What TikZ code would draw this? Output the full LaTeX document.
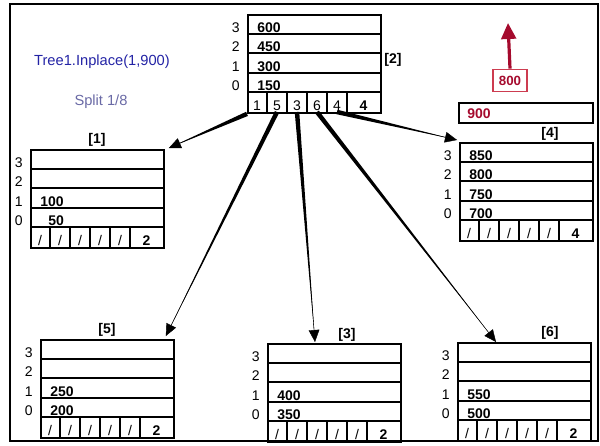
\documentclass[tikz,border=0pt]{standalone}
\usepackage{fontspec}
\setmainfont{Liberation Sans}
\usetikzlibrary{arrows.meta,calc}
\definecolor{navy}{RGB}{35,35,165}
\definecolor{slate}{RGB}{105,105,165}
\definecolor{wine}{RGB}{165,10,45}
\definecolor{rosebox}{RGB}{205,60,80}

\tikzset{
  pagebox/.style={draw, line width=1.4pt, minimum width=99.75pt, minimum height=73.5pt,
    inner sep=0pt, anchor=north west},
  rowline/.style={line width=1.4pt},
  keytext/.style={font=\fontsize{10.5}{12}\selectfont\bfseries, anchor=base west, inner sep=0pt},
  slottext/.style={font=\fontsize{10.5}{12}\selectfont, anchor=base east, inner sep=0pt},
  ptrtext/.style={font=\fontsize{10.5}{12}\selectfont, anchor=base, inner sep=0pt},
  pagetag/.style={font=\fontsize{10.5}{12}\selectfont\bfseries, inner sep=0pt},
}

\newcommand\nilptr{/}
% one B-tree page: name, x, y (top left), keys top row first, pointers, count
\newcommand\btpage[6]{%
  \node[pagebox] (#1) at (#2,#3) {};
  \foreach \k [count=\r] in {#4} {
    \draw[rowline] ($(#1.north west)+(0,\r*19.6)$) -- ++(133,0);
    \pgfmathtruncatemacro\slot{4-\r}
    \node[slottext] at ($(#1.north west)+(-7,\r*19.6-1.5)$) {\slot};
    \node[keytext] at ($(#1.north west)+(10,\r*19.6-1.5)$) {\k};
  }
  \foreach \p [count=\c] in {#5} {
    \draw[rowline] ($(#1.north west)+(\c*20,78.4)$) -- ++(0,19.6);
    \coordinate (#1-p\c) at ($(#1.north west)+(\c*20-10,98)$);
    \node[ptrtext] at ($(#1.north west)+(\c*20-10,96.5)$) {\p};
  }
  \node[ptrtext, font=\fontsize{10.5}{12}\selectfont\bfseries] at ($(#1.north west)+(116.5,96.5)$) {#6};
}
% tapered child pointer
\newcommand\ptrlink[2]{%
  \fill ($(#1)!1.7pt!90:(#2)$) -- ($(#1)!1.7pt!-90:(#2)$) -- (#2) -- cycle;
  \draw[line width=0.3pt, -{Triangle[length=9pt,width=8pt]}] (#1) -- (#2);
}

\begin{document}
\begin{tikzpicture}[x=0.75pt, y=-0.75pt, font=\fontsize{9.5}{11}\selectfont]
  \useasboundingbox (0,0) rectangle (600,446);
  \draw[line width=1.5pt] (10,4) rectangle (598,441);

  \node[text=navy, font=\fontsize{11}{13}\selectfont] (call) at (102,62) {Tree1.Inplace(1,900)};
  \node[text=slate, font=\fontsize{11}{13}\selectfont] (split) at (101,102) {Split 1/8};

  % root and children
  \btpage{n2}{247}{14}{600,450,300,150}{1,5,3,6,4}{4}
  \btpage{n1}{30}{149}{{},{},100,{\kern6pt 50}}{\nilptr,\nilptr,\nilptr,\nilptr,\nilptr}{2}
  \btpage{n4}{459}{142}{850,800,750,700}{\nilptr,\nilptr,\nilptr,\nilptr,\nilptr}{4}
  \btpage{n5}{40}{339}{{},{},250,200}{\nilptr,\nilptr,\nilptr,\nilptr,\nilptr}{2}
  \btpage{n3}{267}{343}{{},{},400,350}{\nilptr,\nilptr,\nilptr,\nilptr,\nilptr}{2}
  \btpage{n6}{457}{342}{{},{},550,500}{\nilptr,\nilptr,\nilptr,\nilptr,\nilptr}{2}

  \node[pagetag] at (393,60) {[2]};
  \node[pagetag] at (97,140) {[1]};
  \node[pagetag] at (550,134) {[4]};
  \node[pagetag] at (107,330) {[5]};
  \node[pagetag] at (347,335) {[3]};
  \node[pagetag] at (550,333) {[6]};

  % overflow key and promoted key
  \node[draw, line width=1.4pt, minimum width=100.5pt, minimum height=15pt, inner sep=0pt,
    anchor=north west] (b900) at (458,102) {};
  \node[keytext, text=wine] at ($(b900.north west)+(9,16.5)$) {900};
  \node[draw=rosebox, line width=0.8pt, text=wine, font=\fontsize{10}{12}\selectfont\bfseries,
    minimum width=25.5pt, minimum height=17pt, inner sep=0pt] (b800) at (510,80.5) {800};
  \coordinate (lift) at (508,23);
  \draw[wine, line width=2.4pt, -{Triangle[length=12pt,width=11pt]}] (b800.north) -- (lift);

  % child pointers
  \coordinate (t1) at ($(n1.north east)+(4,-1)$);
  \coordinate (t5) at ($(n5.north east)+(-9,-3)$);
  \coordinate (t3) at ($(n3.north west)+(48,-1)$);
  \coordinate (t6) at ($(n6.north west)+(39,0)$);
  \coordinate (t4) at ($(n4.north west)+(-2,-2)$);
  \ptrlink{n2.south west}{t1}
  \ptrlink{n2-p2}{t5}
  \ptrlink{n2-p3}{t3}
  \ptrlink{n2-p4}{t6}
  \ptrlink{n2-p5}{t4}
\end{tikzpicture}
\end{document}
